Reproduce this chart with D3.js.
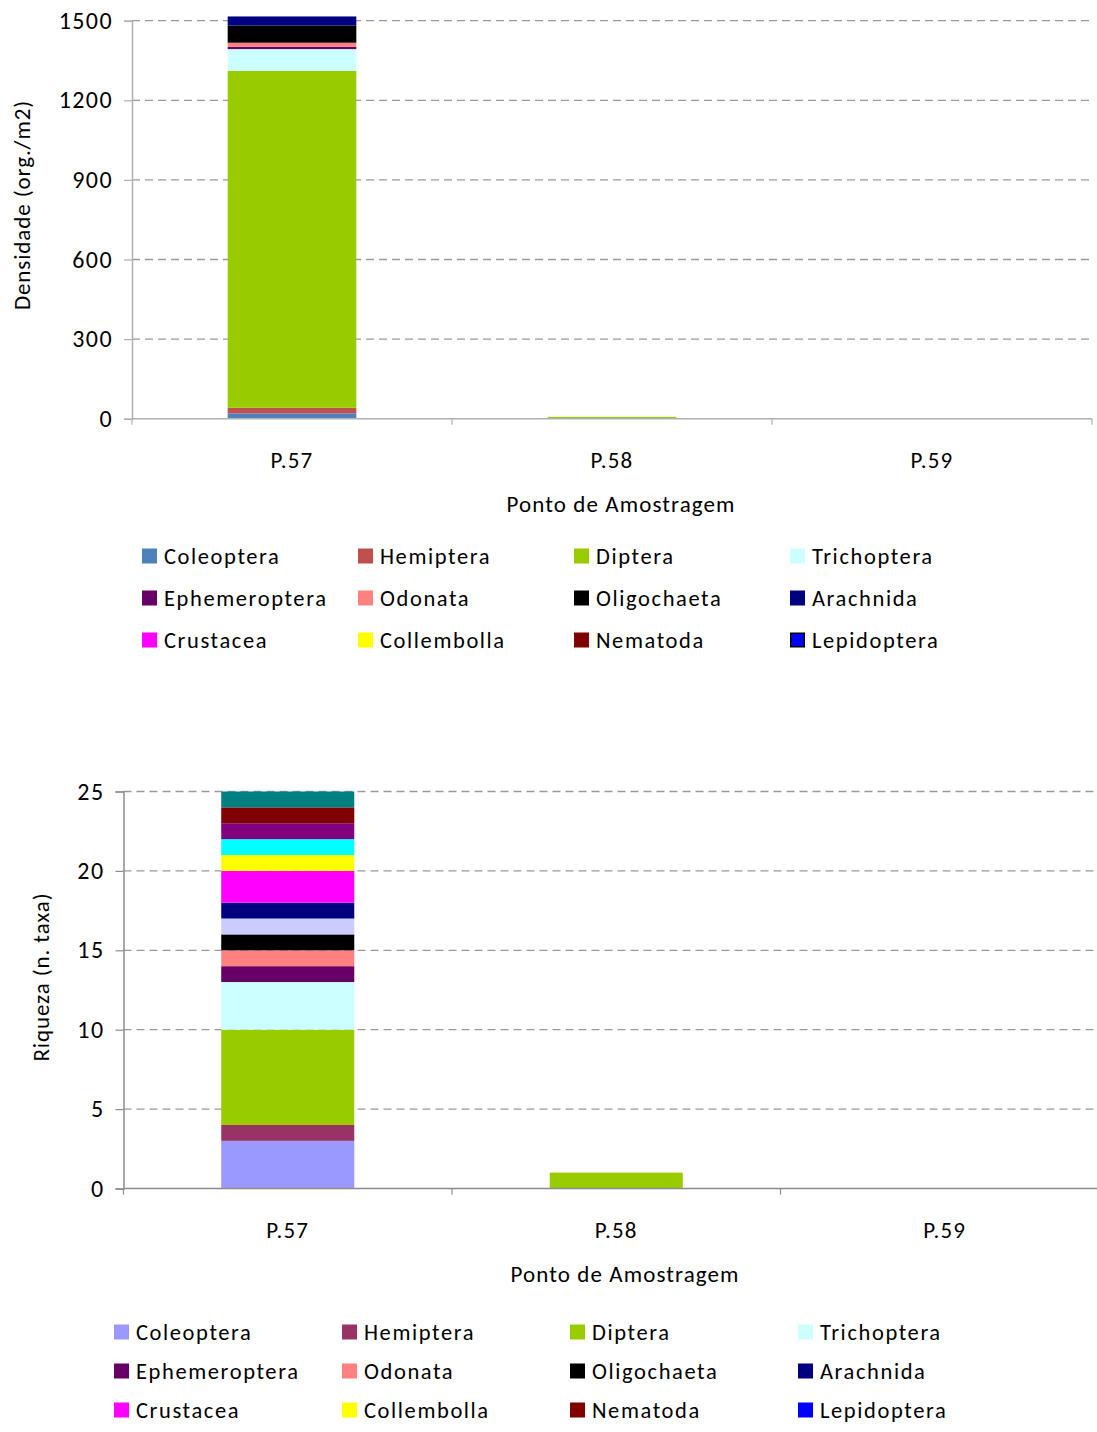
<!DOCTYPE html>
<html>
<head>
<meta charset="utf-8">
<script src="https://cdn.jsdelivr.net/npm/d3@7"></script>
<style>
  html, body { margin: 0; padding: 0; background: #fff; }
  svg text { font-family: Carlito, Calibri, Lato, sans-serif; fill: #000; }
</style>
</head>
<body>
<svg id="chart" width="1097" height="1432"></svg>
<script>
// ---------------- DATA ----------------
const categories = ["P.57", "P.58", "P.59"];

// Chart 1: Densidade (org./m2) — stacked bottom to top
const densSeries = ["Coleoptera", "Hemiptera", "Diptera", "Trichoptera", "Ephemeroptera", "Odonata",
                    "Oligochaeta", "Arachnida", "Crustacea", "Collembolla", "Nematoda", "Lepidoptera"];
const densP57 = [20, 21, 1270, 82, 9, 15, 65, 34, 0, 0, 0, 0];
const densP58 = [0, 0, 7, 0, 0, 0, 0, 0, 0, 0, 0, 0];
const densP59 = [0, 0, 0, 0, 0, 0, 0, 0, 0, 0, 0, 0];
const densTicks = [0, 300, 600, 900, 1200, 1500];
const densLegend = ["Coleoptera", "Hemiptera", "Diptera", "Trichoptera",
                    "Ephemeroptera", "Odonata", "Oligochaeta", "Arachnida",
                    "Crustacea", "Collembolla", "Nematoda", "Lepidoptera"];

// Chart 2: Riqueza (n. taxa) — stacked bottom to top (some series not shown in legend)
const riqSeries = ["Coleoptera", "Hemiptera", "Diptera", "Trichoptera", "Ephemeroptera", "Odonata",
                   "Oligochaeta", "Série 8", "Arachnida", "Crustacea", "Collembolla", "Série 12",
                   "Série 13", "Nematoda", "Série 15", "Lepidoptera"];
const riqP57 = [3, 1, 6, 3, 1, 1, 1, 1, 1, 2, 1, 1, 1, 1, 1, 0];
const riqP58 = [0, 0, 1, 0, 0, 0, 0, 0, 0, 0, 0, 0, 0, 0, 0, 0];
const riqP59 = [0, 0, 0, 0, 0, 0, 0, 0, 0, 0, 0, 0, 0, 0, 0, 0];
const riqTicks = [0, 5, 10, 15, 20, 25];
const riqLegend = ["Coleoptera", "Hemiptera", "Diptera", "Trichoptera",
                   "Ephemeroptera", "Odonata", "Oligochaeta", "Arachnida",
                   "Crustacea", "Collembolla", "Nematoda", "Lepidoptera"];

// ---------------- STYLES ----------------
const densColors = {
  "Coleoptera": "#4F81BD", "Hemiptera": "#C0504D", "Diptera": "#99CC00", "Trichoptera": "#CCFFFF",
  "Ephemeroptera": "#660066", "Odonata": "#FF8080", "Oligochaeta": "#000000", "Arachnida": "#000080",
  "Crustacea": "#FF00FF", "Collembolla": "#FFFF00", "Nematoda": "#800000", "Lepidoptera": "#0000FF"
};
const riqColors = {
  "Coleoptera": "#9999FF", "Hemiptera": "#993366", "Diptera": "#99CC00", "Trichoptera": "#CCFFFF",
  "Ephemeroptera": "#660066", "Odonata": "#FF8080", "Oligochaeta": "#000000", "Série 8": "#CCCCFF",
  "Arachnida": "#000080", "Crustacea": "#FF00FF", "Collembolla": "#FFFF00", "Série 12": "#00FFFF",
  "Série 13": "#800080", "Nematoda": "#800000", "Série 15": "#008080", "Lepidoptera": "#0000FF"
};

const svg = d3.select("#chart");

function drawChart(cfg) {
  const g = svg.append("g");
  const x = d3.scaleBand().domain(categories).range([cfg.left, cfg.right]).padding(0);
  const y = d3.scaleLinear().domain([0, cfg.max]).range([cfg.bottom, cfg.top]);

  const rows = categories.map((c, i) => {
    const r = { cat: c };
    cfg.series.forEach((s, j) => { r[s] = cfg.values[i][j]; });
    return r;
  });
  const stacked = d3.stack().keys(cfg.series)(rows);

  // gridlines
  g.append("g").selectAll("line").data(cfg.ticks.filter(t => t > 0)).join("line")
    .attr("x1", cfg.left).attr("x2", cfg.gridRight)
    .attr("y1", d => y(d)).attr("y2", d => y(d))
    .attr("stroke", "#9a9a9a").attr("stroke-width", 1.3)
    .attr("stroke-dasharray", "8,5");

  // bars
  const bw = x.bandwidth() * cfg.barFrac;
  stacked.forEach(layer => {
    g.append("g").attr("fill", cfg.colors[layer.key])
      .selectAll("rect").data(layer.filter(d => d[1] - d[0] > 0)).join("rect")
      .attr("x", d => x(d.data.cat) + (x.bandwidth() - bw) / 2)
      .attr("width", bw)
      .attr("y", d => y(d[1]))
      .attr("height", d => y(d[0]) - y(d[1]));
  });

  // y axis
  const yAxis = d3.axisLeft(y).tickValues(cfg.ticks).tickFormat(d3.format("d")).tickSize(8).tickPadding(11);
  const ya = g.append("g").attr("transform", `translate(${cfg.left},0)`).call(yAxis);
  ya.attr("font-family", null).attr("font-size", null);
  ya.select(".domain").attr("stroke", cfg.axisColor).attr("stroke-width", 1.5);
  ya.selectAll(".tick line").attr("stroke", cfg.axisColor).attr("stroke-width", 1.2);
  ya.selectAll(".tick text").attr("font-size", 24).attr("letter-spacing", 1.4).attr("fill", "#000");

  // x axis
  const xa = g.append("g").attr("transform", `translate(0,${cfg.bottom})`);
  xa.append("line").attr("x1", cfg.left).attr("x2", cfg.right).attr("y1", 0).attr("y2", 0)
    .attr("stroke", cfg.axisColor).attr("stroke-width", 1.5);
  const bounds = categories.map(c => x(c)).concat([cfg.right]);
  xa.selectAll("line.tk").data(bounds).join("line").attr("class", "tk")
    .attr("x1", d => d).attr("x2", d => d).attr("y1", 0).attr("y2", 6)
    .attr("stroke", cfg.axisColor).attr("stroke-width", 1.2);
  xa.selectAll("text").data(categories).join("text")
    .attr("x", d => x(d) + x.bandwidth() / 2).attr("y", 49)
    .attr("text-anchor", "middle").attr("font-size", 23).attr("letter-spacing", 1.2)
    .text(d => d);

  // axis titles
  g.append("text").attr("x", cfg.xTitleX).attr("y", cfg.bottom + 93)
    .attr("text-anchor", "middle").attr("font-size", 23).attr("letter-spacing", 1.1)
    .text("Ponto de Amostragem");
  g.append("text")
    .attr("transform", `translate(${cfg.yTitleX},${cfg.yTitleY}) rotate(-90)`)
    .attr("text-anchor", "middle").attr("font-size", 23).attr("letter-spacing", 0.9)
    .text(cfg.yTitle);

  // legend
  const lg = g.append("g");
  cfg.legend.forEach((name, i) => {
    const col = i % 4, row = Math.floor(i / 4);
    const lx = cfg.legX + col * cfg.legDX, ly = cfg.legY + row * cfg.legDY;
    const r = lg.append("rect").attr("x", lx).attr("y", ly - 7.5).attr("width", 15).attr("height", 15)
      .attr("fill", cfg.colors[name]);
    if (cfg.borderFor && cfg.borderFor.includes(name)) {
      r.attr("stroke", "#000").attr("stroke-width", 1.5).attr("x", lx + 0.75).attr("y", ly - 6.75)
        .attr("width", 13.5).attr("height", 13.5);
    }
    lg.append("text").attr("x", lx + 22).attr("y", ly).attr("dy", "0.35em")
      .attr("font-size", 22.5).attr("letter-spacing", 1.6).text(name);
  });
}

drawChart({
  series: densSeries, values: [densP57, densP58, densP59], colors: densColors,
  max: 1500, ticks: densTicks,
  left: 132, right: 1092, gridRight: 1092, top: 20.7, bottom: 418.7, barFrac: 0.402,
  axisColor: "#b0b0b0",
  yTitle: "Densidade (org./m2)", yTitleX: 30, yTitleY: 205, xTitleX: 621,
  legend: densLegend, legX: 142, legY: 556, legDX: 216, legDY: 42, borderFor: ["Lepidoptera"]
});

drawChart({
  series: riqSeries, values: [riqP57, riqP58, riqP59], colors: riqColors,
  max: 25, ticks: riqTicks,
  left: 123.5, right: 1109, gridRight: 1097, top: 791.5, bottom: 1188.5, barFrac: 0.405,
  axisColor: "#8c8c8c",
  yTitle: "Riqueza (n. taxa)", yTitleX: 49, yTitleY: 977, xTitleX: 625,
  legend: riqLegend, legX: 114, legY: 1332, legDX: 228, legDY: 39
});
</script>
</body>
</html>
